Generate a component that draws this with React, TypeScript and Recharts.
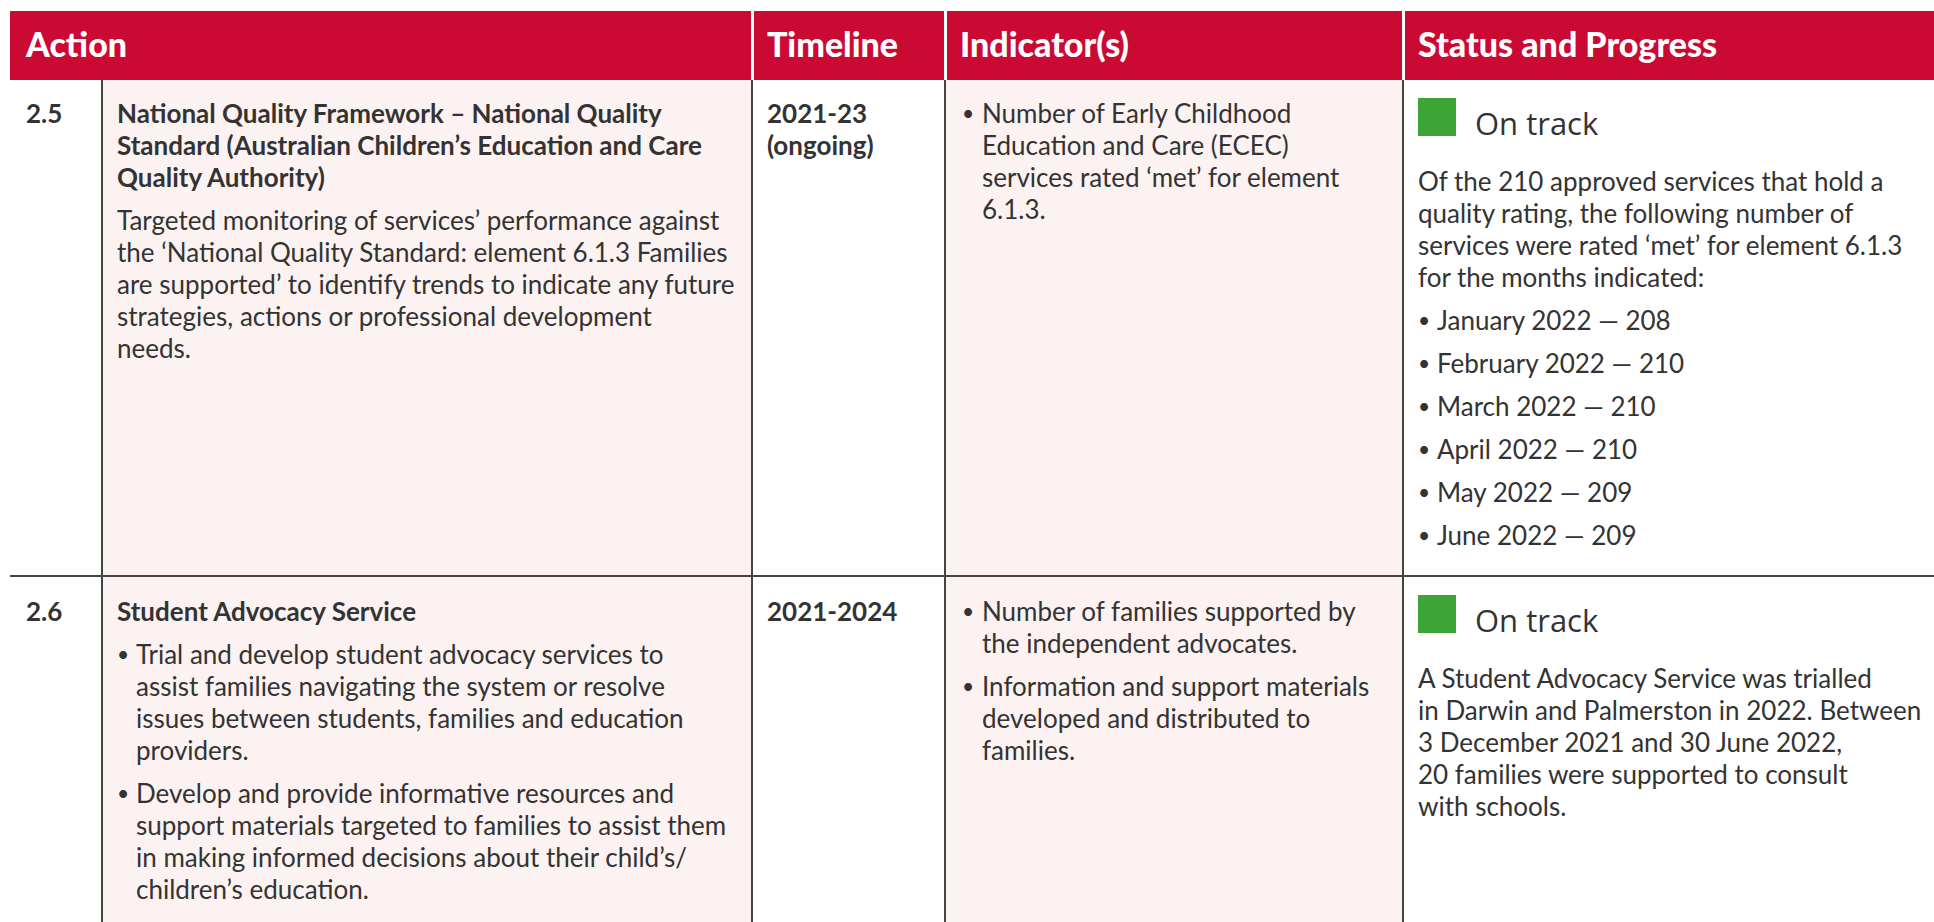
import { Surface, Rectangle } from 'recharts'

const headerLabels = ['Action', 'Timeline', 'Indicator(s)', 'Status and Progress']

const actionNumbers = ['2.5', '2.6']

const actionTitles = [
  ['National Quality Framework – National Quality', 'Standard (Australian Children’s Education and Care', 'Quality Authority)'],
  ['Student Advocacy Service'],
]

const actionDetails = [
  [
    {
      bullet: false,
      lines: [
        'Targeted monitoring of services’ performance against',
        'the ‘National Quality Standard: element 6.1.3 Families',
        'are supported’ to identify trends to indicate any future',
        'strategies, actions or professional development',
        'needs.',
      ],
    },
  ],
  [
    {
      bullet: true,
      lines: [
        'Trial and develop student advocacy services to',
        'assist families navigating the system or resolve',
        'issues between students, families and education',
        'providers.',
      ],
    },
    {
      bullet: true,
      lines: [
        'Develop and provide informative resources and',
        'support materials targeted to families to assist them',
        'in making informed decisions about their child’s/',
        'children’s education.',
      ],
    },
  ],
]

const timelines = [['2021-23', '(ongoing)'], ['2021-2024']]

const indicators = [
  [['Number of Early Childhood', 'Education and Care (ECEC)', 'services rated ‘met’ for element', '6.1.3.']],
  [
    ['Number of families supported by', 'the independent advocates.'],
    ['Information and support materials', 'developed and distributed to', 'families.'],
  ],
]

const statusLabels = ['On track', 'On track']

const statusNotes = [
  [
    'Of the 210 approved services that hold a',
    'quality rating, the following number of',
    'services were rated ‘met’ for element 6.1.3',
    'for the months indicated:',
  ],
  [
    'A Student Advocacy Service was trialled',
    'in Darwin and Palmerston in 2022. Between',
    '3 December 2021 and 30 June 2022,',
    '20 families were supported to consult',
    'with schools.',
  ],
]

// services rated 'met' per month (row 2.5 only)
const monthLabels = ['January 2022', 'February 2022', 'March 2022', 'April 2022', 'May 2022', 'June 2022']
const monthValues = [208, 210, 210, 210, 209, 209]

const COLS = [91, 650, 193, 458, 532]
const RED = '#cb0a33'
const PINK = '#fcf2f1'
const GREEN = '#3ca535'
const TEXT = '#333333'
const LINE = '#444444'

const bodyFont = 'Lato, "Noto Sans", sans-serif'

function Lines({ lines, bold }: { lines: string[]; bold?: boolean }) {
  return (
    <div>
      {lines.map((l, i) => (
        <div key={i} style={{ whiteSpace: 'nowrap', fontWeight: bold ? 700 : 400 }}>{l}</div>
      ))}
    </div>
  )
}

function Bullet({ lines, indent = 19 }: { lines: string[]; indent?: number }) {
  return (
    <div style={{ position: 'relative', paddingLeft: indent }}>
      <span style={{ position: 'absolute', left: 0, top: 0, fontSize: 21 }}>•</span>
      <Lines lines={lines} />
    </div>
  )
}

function StatusMark({ label }: { label: string }) {
  return (
    <div style={{ display: 'flex', alignItems: 'flex-start', height: 38 }}>
      <Surface width={38} height={38} viewBox={{ x: 0, y: 0, width: 38, height: 38 }}>
        <Rectangle x={0} y={0} width={38} height={38} fill={GREEN} />
      </Surface>
      <span
        style={{
          marginLeft: 19,
          fontFamily: '"Open Sans", sans-serif',
          fontSize: 31,
          lineHeight: '38px',
          position: 'relative',
          top: 6,
          color: TEXT,
        }}
      >
        {label}
      </span>
    </div>
  )
}

function Row({ r, height, padTop }: { r: number; height: number; padTop: number }) {
  const cell = (i: number, bg: string, extra: any = {}) => ({
    width: COLS[i],
    boxSizing: 'border-box' as const,
    background: bg,
    borderLeft: i > 0 ? `2px solid ${LINE}` : 'none',
    paddingLeft: 14,
    paddingTop: padTop,
    ...extra,
  })
  return (
    <div
      style={{
        display: 'flex',
        height,
        boxSizing: 'border-box',
        borderBottom: r === 0 ? `2px solid ${LINE}` : 'none',
      }}
    >
      <div style={cell(0, '#ffffff', { paddingLeft: 16 })}>
        <div style={{ fontWeight: 700 }}>{actionNumbers[r]}</div>
      </div>
      <div style={cell(1, PINK)}>
        <Lines lines={actionTitles[r]} bold />
        {actionDetails[r].map((b, i) => (
          <div key={i} style={{ marginTop: 11 }}>
            {b.bullet ? <Bullet lines={b.lines} /> : <Lines lines={b.lines} />}
          </div>
        ))}
      </div>
      <div style={cell(2, '#ffffff')}>
        <Lines lines={timelines[r]} bold />
      </div>
      <div style={cell(3, PINK, { paddingLeft: 16 })}>
        {indicators[r].map((b, i) => (
          <div key={i} style={{ marginTop: i > 0 ? 11 : 0 }}>
            <Bullet lines={b} indent={20} />
          </div>
        ))}
      </div>
      <div style={cell(4, '#ffffff', { paddingTop: 18 })}>
        <StatusMark label={statusLabels[r]} />
        <div style={{ marginTop: 29 }}>
          <Lines lines={statusNotes[r]} />
        </div>
        {r === 0 &&
          monthLabels.map((m, i) => (
            <div key={m} style={{ marginTop: 11 }}>
              <Bullet lines={[`${m} — ${monthValues[i]}`]} indent={19} />
            </div>
          ))}
      </div>
    </div>
  )
}

export default function App() {
  return (
    <div
      style={{
        position: 'fixed',
        left: 0,
        top: 0,
        width: 1934,
        height: 922,
        overflow: 'hidden',
        background: '#ffffff',
      }}
    >
      <div
        style={{
          position: 'absolute',
          left: 10,
          top: 11,
          width: 1924,
          fontFamily: bodyFont,
          fontSize: 26,
          lineHeight: '32px',
          color: TEXT,
        }}
      >
        <div style={{ display: 'flex', height: 69, background: RED, color: '#ffffff' }}>
          {headerLabels.map((h, i) => (
            <div
              key={h}
              style={{
                width: i === 0 ? COLS[0] + COLS[1] : COLS[i + 1],
                boxSizing: 'border-box',
                borderLeft: i > 0 ? '3px solid #ffffff' : 'none',
                paddingLeft: i === 0 ? 16 : 13,
                fontWeight: 900,
                fontSize: 34,
                lineHeight: '66px',
                whiteSpace: 'nowrap',
              }}
            >
              {h}
            </div>
          ))}
        </div>
        <Row r={0} height={497} padTop={17} />
        <Row r={1} height={400} padTop={18} />
      </div>
    </div>
  )
}
